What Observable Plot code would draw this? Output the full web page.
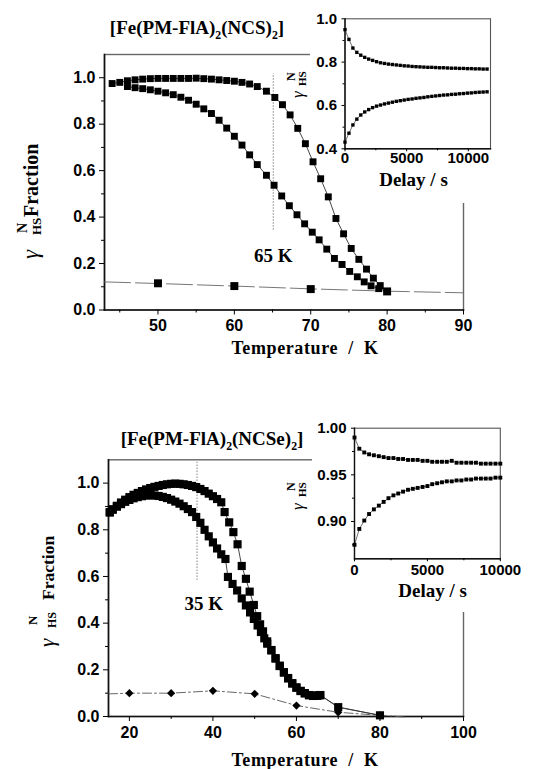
<!DOCTYPE html>
<html><head><meta charset="utf-8">
<script src="https://cdn.jsdelivr.net/npm/d3@7"></script>
<script src="https://cdn.jsdelivr.net/npm/@observablehq/plot@0.6"></script>
<style>
body{margin:0;background:#fff;}
#wrap{position:relative;width:546px;height:769px;overflow:hidden;background:#fff;}
</style></head><body><div id="wrap"></div>
<script>
// ---------------- DATA ----------------
// Top panel [Fe(PM-FlA)2(NCS)2]
const topUpperT = [44,45,46,47,48,49,50,51,52,53,54,55,56,57,58,59,60,61,62,63,64.2,65.3,66.3,67.3,68.3,69.3,70.3,71.3,72.3,73.3,74.3,75.3,76.3,77.3,78.2,79.1];
const topUpperV = [0.975,0.980,0.987,0.991,0.994,0.996,0.997,0.997,0.997,0.997,0.997,0.998,0.996,0.994,0.991,0.988,0.985,0.980,0.973,0.962,0.942,0.915,0.884,0.840,0.782,0.716,0.638,0.565,0.487,0.394,0.328,0.265,0.218,0.176,0.137,0.105];
const topLowerT = [46,47,48,49,50,51,52,53,54,55,56,57,58,59,60,61,62,63,64.2,65.2,66.2,67.2,68.2,69.2,70.2,71.1,72.1,73.1,74.1,75.1,76.1,77,77.9,78.9];
const topLowerV = [0.962,0.957,0.953,0.948,0.942,0.935,0.927,0.916,0.903,0.886,0.866,0.846,0.817,0.783,0.748,0.710,0.668,0.626,0.580,0.537,0.491,0.449,0.410,0.371,0.335,0.302,0.262,0.222,0.196,0.166,0.143,0.121,0.104,0.092];
const topRefT = [50,60,70,80];
const topRefV = [0.115,0.103,0.090,0.080];
const topFitT = [43,50,60,70,80,90];
const topFitV = [0.121,0.114,0.103,0.091,0.081,0.074];
const topXTicks = [50,60,70,80,90];
const topXMinor = [45,55,65,75,85];
const topYTicks = [0,0.2,0.4,0.6,0.8,1.0];
const topYMinor = [0.1,0.3,0.5,0.7,0.9];
const topGuide = [{x:65.1, y1:0.343, y2:1.017}];
const topNote = [{x:65.1, y:0.235, text:"65 K"}];
const topTitle = ["[Fe(PM-FlA)","2","(NCS)","2","]"];

// Top inset (delay)
const insTopT = [0,320,640,960,1280,1600,1920,2240,2560,2880,3200,3520,3840,4160,4480,4800,5120,5440,5760,6080,6400,6720,7040,7360,7680,8000,8320,8640,8960,9280,9600,9920,10240,10560,10880,11200,11520];
const insTopUpper = [0.950,0.905,0.865,0.845,0.832,0.822,0.814,0.808,0.802,0.797,0.794,0.791,0.789,0.787,0.785,0.783,0.782,0.780,0.779,0.778,0.777,0.776,0.776,0.775,0.774,0.774,0.773,0.772,0.772,0.771,0.771,0.770,0.770,0.769,0.769,0.768,0.768];
const insTopLower = [0.431,0.472,0.510,0.537,0.556,0.570,0.581,0.590,0.597,0.602,0.607,0.611,0.615,0.619,0.622,0.625,0.628,0.630,0.633,0.635,0.637,0.640,0.642,0.644,0.646,0.648,0.649,0.651,0.652,0.654,0.655,0.657,0.658,0.660,0.661,0.662,0.663];
const insTopXTicks = [0,5000,10000];
const insTopXMinor = [2500,7500];
const insTopYTicks = [0.4,0.6,0.8,1.0];
const insTopYMinor = [0.5,0.7,0.9];

// Bottom panel [Fe(PM-FlA)2(NCSe)2]
const botUpperT = [15.3,16,17,18,19,20,21,22,23,24,25,26,27,28,29,30,31,32,33,34,35,36,37,38,39,40,41,42,42.8,43.9,44.9,45.9,46.9,47.9,48.8,49.8,50.6,51.3,52,53,54,55,56,57,58,59,60,61,62,63,64,65,65.7];
const botUpperV = [0.876,0.888,0.903,0.917,0.929,0.940,0.950,0.958,0.966,0.973,0.979,0.984,0.988,0.992,0.995,0.997,0.998,0.997,0.995,0.992,0.988,0.983,0.975,0.966,0.955,0.944,0.932,0.918,0.876,0.832,0.790,0.738,0.645,0.590,0.535,0.478,0.430,0.395,0.365,0.322,0.285,0.250,0.218,0.190,0.165,0.143,0.125,0.110,0.100,0.092,0.089,0.090,0.092];
const botLowerT = [15.3,16,17,18,19,20,21,22,23,24,25,26,27,28,29,30,31,32,33,34,35,36,37,38,39,40,41,42,43,43.6,44.7,45.8,46.9,47.9,48.9,49.8,50.7,51.5,52.3,53,54,55,56,57,58,59,60,61,62,63,64,65,65.7];
const botLowerV = [0.874,0.886,0.899,0.910,0.920,0.928,0.935,0.940,0.944,0.947,0.948,0.947,0.945,0.941,0.936,0.929,0.921,0.912,0.901,0.889,0.876,0.855,0.830,0.800,0.772,0.746,0.720,0.695,0.675,0.598,0.568,0.540,0.506,0.476,0.446,0.418,0.390,0.362,0.335,0.312,0.283,0.248,0.216,0.188,0.163,0.141,0.123,0.109,0.099,0.091,0.088,0.089,0.091];
const botTailT = [70,80];
const botTailV = [0.040,0.005];
const botDiaT = [20,30,40,50,60,70,80];
const botDiaV = [0.100,0.100,0.110,0.097,0.047,0.018,0.005];
const botDiaEndsT = [15,86];
const botDiaEndsV = [0.097,-0.002];
const botXTicks = [20,40,60,80,100];
const botXMinor = [30,50,70,90];
const botYTicks = [0,0.2,0.4,0.6,0.8,1.0];
const botYMinor = [0.1,0.3,0.5,0.7,0.9];
const botGuide = [{x:36.2, y1:0.583, y2:1.09}];
const botNote = [{x:37.8, y:0.483, text:"35 K"}];
const botTitle = ["[Fe(PM-FlA)","2","(NCSe)","2","]"];

// Bottom inset (delay)
const insBotT = [0,330,670,1000,1330,1670,2000,2330,2670,3000,3330,3670,4000,4330,4670,5000,5330,5670,6000,6330,6670,7000,7330,7670,8000,8330,8670,9000,9330,9670,10000];
const insBotUpper = [0.990,0.978,0.974,0.972,0.971,0.970,0.969,0.968,0.968,0.967,0.967,0.966,0.966,0.966,0.965,0.965,0.964,0.964,0.964,0.964,0.965,0.963,0.963,0.963,0.963,0.963,0.962,0.962,0.962,0.962,0.962];
const insBotLower = [0.875,0.892,0.901,0.908,0.913,0.917,0.921,0.925,0.928,0.930,0.932,0.934,0.935,0.936,0.937,0.938,0.940,0.941,0.942,0.943,0.943,0.944,0.944,0.945,0.945,0.946,0.946,0.946,0.946,0.947,0.947];
const insBotXTicks = [0,5000,10000];
const insBotXMinor = [2500,7500];
const insBotYTicks = [0.90,0.95,1.00];
const insBotYMinor = [0.875,0.925,0.975];

// ---------------- HELPERS ----------------
const serif = "'Liberation Serif','Times New Roman',serif";
const sans = "'Liberation Sans',Arial,sans-serif";
const zip = (xs, ys) => xs.map((x, i) => ({x, y: ys[i]}));
const wrap = document.getElementById("wrap");
function place(svg, left, top) {
  svg.style.position = "absolute";
  svg.style.left = left + "px";
  svg.style.top = top + "px";
  svg.style.maxWidth = "none";
  svg.style.overflow = "visible";
  wrap.appendChild(svg);
  return svg;
}
const conn = (data, extra = {}) => Plot.line(data, {x: "x", y: "y", stroke: "#333", strokeWidth: 0.9, ...extra});
const sq = (data, r) => Plot.dot(data, {x: "x", y: "y", symbol: "square", r, fill: "#000", stroke: "none"});
const minor = () => "";

function chemTitle(svg, cx, by, parts, size) {
  const t = d3.select(svg).append("text").attr("x", cx).attr("y", by)
    .attr("text-anchor", "middle").attr("font-family", serif)
    .attr("font-weight", "bold").attr("font-size", size).attr("fill", "#000");
  parts.forEach((s, i) => {
    const ts = t.append("tspan").text(s);
    if (i % 2 === 1) ts.attr("font-size", size * 0.62).attr("dy", size * 0.28);
    else if (i > 0) ts.attr("dy", -size * 0.28);
  });
}
function plainText(svg, cx, by, str, size, spacing = 0) {
  d3.select(svg).append("text").attr("x", cx).attr("y", by).attr("text-anchor", "middle")
    .attr("font-family", serif).attr("font-weight", "bold").attr("font-size", size)
    .attr("letter-spacing", spacing)
    .attr("fill", "#000").style("white-space", "pre").text(str);
}
// rotated y label pieces: [text, baselineX, startY, size, italic]
function rotLabel(svg, pieces) {
  const g = d3.select(svg).append("g").attr("font-family", serif).attr("fill", "#000").attr("text-anchor", "start");
  pieces.forEach(([s, x, y, size, italic]) => {
    g.append("text").attr("transform", `translate(${x},${y}) rotate(-90)`)
      .attr("font-size", size)
      .attr("font-style", italic ? "italic" : "normal")
      .attr("font-weight", italic ? "normal" : "bold")
      .text(s);
  });
}

// ---------------- TOP MAIN ----------------
const topSvg = Plot.plot({
  width: 546, height: 384,
  marginLeft: 104, marginRight: 83, marginTop: 54, marginBottom: 74.5,
  x: {domain: [43, 90]},
  y: {domain: [0, 1.1]},
  style: {fontFamily: sans, fontSize: "16px", fontWeight: "bold", color: "#000", background: "transparent"},
  marks: [
    Plot.frame({stroke: "#666", strokeWidth: 1.4}),
    Plot.frame({anchor: "left", stroke: "#111", strokeWidth: 1.6}),
    Plot.frame({anchor: "bottom", stroke: "#111", strokeWidth: 1.6}),
    Plot.axisX(topXTicks, {tickSize: 5, tickPadding: 5, tickFormat: "d", label: null}),
    Plot.axisX(topXMinor, {tickSize: 3, tickFormat: minor, label: null}),
    Plot.axisY(topYTicks, {tickSize: 5, tickPadding: 4, tickFormat: ".1f", label: null}),
    Plot.axisY(topYMinor, {tickSize: 3, tickFormat: minor, label: null}),
    Plot.ruleX(topGuide, {x: "x", y1: "y1", y2: "y2", stroke: "#999", strokeWidth: 1.2, strokeDasharray: "1.5,1.5"}),
    conn(zip(topFitT, topFitV), {stroke: "#666", strokeDasharray: "26,5"}),
    conn(zip([...topUpperT, topRefT[3]], [...topUpperV, topRefV[3]])),
    conn(zip([...topLowerT, topRefT[3]], [...topLowerV, topRefV[3]])),
    sq(zip(topUpperT, topUpperV), 3.9),
    sq(zip(topLowerT, topLowerV), 3.9),
    sq(zip(topRefT, topRefV), 4.5),
    Plot.text(topNote, {x: "x", y: "y", text: "text", fontFamily: serif, fontWeight: "bold", fontSize: 19, fill: "#000"})
  ]
});
place(topSvg, 0, 0);
{
  const s = d3.select(topSvg);
  s.append("rect").attr("x", 310).attr("y", 0).attr("width", 236).attr("height", 150).attr("fill", "#fff");
  s.append("rect").attr("x", 420).attr("y", 148).attr("width", 126).attr("height", 55).attr("fill", "#fff");
}
chemTitle(topSvg, 197, 33.5, topTitle, 19);
plainText(topSvg, 305, 354, "Temperature  /  K", 18, 0.6);
rotLabel(topSvg, [
  ["γ", 38, 259, 23, true],
  ["HS", 41, 235, 13, false],
  ["N", 27, 233, 14, false],
  ["Fraction", 38, 217, 20, false]
]);

// ---------------- TOP INSET ----------------
const insTopSvg = Plot.plot({
  width: 246, height: 200,
  marginLeft: 58.5, marginRight: 42, marginTop: 18.3, marginBottom: 51.7,
  x: {domain: [0, 11800]},
  y: {domain: [0.4, 1.0]},
  style: {fontFamily: sans, fontSize: "15px", fontWeight: "bold", color: "#000", background: "transparent"},
  marks: [
    Plot.frame({stroke: "#555", strokeWidth: 1.1}),
    Plot.frame({anchor: "left", stroke: "#111", strokeWidth: 1.4}),
    Plot.frame({anchor: "bottom", stroke: "#111", strokeWidth: 1.4}),
    Plot.axisX(insTopXTicks, {tickSize: 3, tickPadding: 1, tickFormat: "d", label: null}),
    Plot.axisX(insTopXMinor, {tickSize: 2, tickFormat: minor, label: null}),
    Plot.axisY(insTopYTicks, {tickSize: 3, tickPadding: 5, tickFormat: ".1f", label: null}),
    Plot.axisY(insTopYMinor, {tickSize: 2, tickFormat: minor, label: null}),
    conn(zip(insTopT, insTopUpper), {strokeWidth: 0.7}),
    conn(zip(insTopT, insTopLower), {strokeWidth: 0.7}),
    sq(zip(insTopT, insTopUpper), 1.9),
    sq(zip(insTopT, insTopLower), 1.9)
  ]
});
place(insTopSvg, 286, 0);
plainText(insTopSvg, 127.5, 186, "Delay / s", 19);
rotLabel(insTopSvg, [
  ["γ", 17, 98, 17, true],
  ["HS", 20, 86, 11, false],
  ["N", 9, 81, 12, false]
]);

// ---------------- BOTTOM MAIN ----------------
const botSvg = Plot.plot({
  width: 546, height: 385,
  marginLeft: 108, marginRight: 83, marginTop: 75.3, marginBottom: 53,
  x: {domain: [15, 100]},
  y: {domain: [0, 1.1]},
  style: {fontFamily: sans, fontSize: "16px", fontWeight: "bold", color: "#000", background: "transparent"},
  marks: [
    Plot.frame({stroke: "#666", strokeWidth: 1.4}),
    Plot.frame({anchor: "left", stroke: "#111", strokeWidth: 1.6}),
    Plot.frame({anchor: "bottom", stroke: "#111", strokeWidth: 1.6}),
    Plot.axisX(botXTicks, {tickSize: 5, tickPadding: 5, tickFormat: "d", label: null}),
    Plot.axisX(botXMinor, {tickSize: 3, tickFormat: minor, label: null}),
    Plot.axisY(botYTicks, {tickSize: 5, tickPadding: 4, tickFormat: ".1f", label: null}),
    Plot.axisY(botYMinor, {tickSize: 3, tickFormat: minor, label: null}),
    Plot.ruleX(botGuide, {x: "x", y1: "y1", y2: "y2", stroke: "#999", strokeWidth: 1.2, strokeDasharray: "1.5,1.5"}),
    conn(zip([botDiaEndsT[0], ...botDiaT, botDiaEndsT[1]], [botDiaEndsV[0], ...botDiaV, botDiaEndsV[1]]), {stroke: "#555", strokeDasharray: "9,3,2,3"}),
    conn(zip([...botUpperT, ...botTailT], [...botUpperV, ...botTailV])),
    conn(zip([...botLowerT, ...botTailT], [...botLowerV, ...botTailV])),
    sq(zip(botUpperT, botUpperV), 4.6),
    sq(zip(botLowerT, botLowerV), 4.6),
    sq(zip(botTailT, botTailV), 4.6),
    Plot.dot(zip(botDiaT, botDiaV), {x: "x", y: "y", symbol: "diamond2", r: 3.7, fill: "#000", stroke: "none"}),
    Plot.text(botNote, {x: "x", y: "y", text: "text", fontFamily: serif, fontWeight: "bold", fontSize: 19, fill: "#000"})
  ]
});
place(botSvg, 0, 384);
d3.select(botSvg).append("rect").attr("x", 312).attr("y", 0).attr("width", 234).attr("height", 228).attr("fill", "#fff");
chemTitle(botSvg, 212, 61, botTitle, 19);
plainText(botSvg, 305, 382, "Temperature  /  K", 18, 0.6);
rotLabel(botSvg, [
  ["γ", 54, 263, 21, true],
  ["HS", 56, 244, 12, false],
  ["N", 37, 241, 13, false],
  ["Fraction", 54, 216, 17.5, false]
]);

// ---------------- BOTTOM INSET ----------------
const insBotSvg = Plot.plot({
  width: 246, height: 212,
  marginLeft: 64, marginRight: 36.2, marginTop: 27.7, marginBottom: 53.7,
  x: {domain: [0, 10000]},
  y: {domain: [0.86, 1.0]},
  style: {fontFamily: sans, fontSize: "15px", fontWeight: "bold", color: "#000", background: "transparent"},
  marks: [
    Plot.frame({stroke: "#555", strokeWidth: 1.1}),
    Plot.frame({anchor: "left", stroke: "#111", strokeWidth: 1.4}),
    Plot.frame({anchor: "bottom", stroke: "#111", strokeWidth: 1.4}),
    Plot.axisX(insBotXTicks, {tickSize: 3, tickPadding: 3, tickFormat: "d", label: null}),
    Plot.axisX(insBotXMinor, {tickSize: 2, tickFormat: minor, label: null}),
    Plot.axisY(insBotYTicks, {tickSize: 3, tickPadding: 5, tickFormat: ".2f", label: null}),
    Plot.axisY(insBotYMinor, {tickSize: 2, tickFormat: minor, label: null}),
    conn(zip(insBotT, insBotUpper), {strokeWidth: 0.7}),
    conn(zip(insBotT, insBotLower), {strokeWidth: 0.7}),
    sq(zip(insBotT, insBotUpper), 2.2),
    sq(zip(insBotT, insBotLower), 2.2)
  ]
});
place(insBotSvg, 290, 400);
plainText(insBotSvg, 142.6, 197, "Delay / s", 19);
rotLabel(insBotSvg, [
  ["γ", 13, 110, 17, true],
  ["HS", 16, 97, 11, false],
  ["N", 5, 91, 12, false]
]);
</script></body></html>
